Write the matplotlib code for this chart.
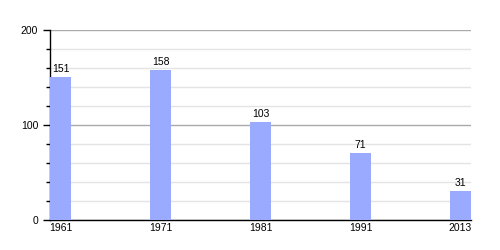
import matplotlib.pyplot as plt
import numpy as np
from matplotlib.ticker import MultipleLocator

plt.rcParams['font.family'] = ['Liberation Sans', 'DejaVu Sans']

years = ['1961', '1971', '1981', '1991', '2013']
values = [151, 158, 103, 71, 31]

fig = plt.figure(figsize=(5, 2.5), dpi=100)
ax = fig.add_axes([0.1, 0.12, 0.842, 0.76])

x = np.arange(len(years))
bar_w = 0.21
ax.bar(x, values, width=bar_w, align='edge', color='#99aaff', zorder=3)
for xi, v in zip(x, values):
    ax.text(xi + bar_w / 2, v + 3, str(v), ha='center', va='bottom', fontsize=7.5)

ax.set_xlim(0, len(years) - 1 + bar_w)
ax.set_ylim(0, 200)
ax.set_xticks(x + bar_w / 2)
ax.set_xticklabels(years, fontsize=7.5)
ax.set_yticks([0, 100, 200])
ax.yaxis.set_minor_locator(MultipleLocator(20))
ax.tick_params(axis='y', which='major', length=5, labelsize=7.5, width=1)
ax.tick_params(axis='y', which='minor', length=3, width=1)
ax.tick_params(axis='x', length=0, pad=2)

ax.grid(axis='y', which='major', color='#aaaaaa', lw=1, zorder=0)
ax.grid(axis='y', which='minor', color='#e4e4e4', lw=1, zorder=0)

for s in ['top', 'right']:
    ax.spines[s].set_visible(False)
ax.spines['left'].set_linewidth(1)
ax.spines['bottom'].set_linewidth(1)

fig.savefig('out.png')
